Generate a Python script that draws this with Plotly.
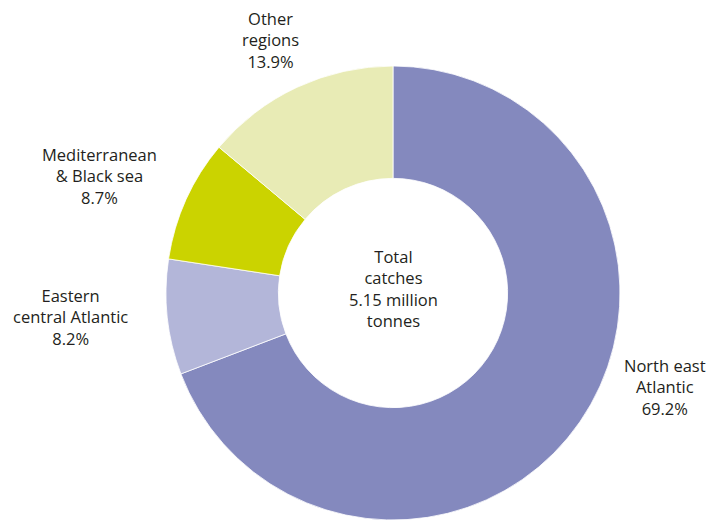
import plotly.graph_objects as go

# Catch shares by fishing region
regions = ["North east<br>Atlantic", "Eastern<br>central Atlantic",
           "Mediterranean<br>& Black sea", "Other<br>regions"]
shares = [69.2, 8.2, 8.7, 13.9]
colors = ["#8489be", "#b3b6d9", "#cbd300", "#e8ebb5"]
total_label = "Total<br>catches<br>5.15 million<br>tonnes"

# label anchor positions (pixels from top-left) for each region
label_px = [(665, 387), (70, 317), (99, 176), (270, 40)]

W, H = 722, 520
FONT = dict(family="Open Sans, Noto Sans, sans-serif", size=16.5, color="#231f20")

fig = go.Figure(go.Pie(
    labels=regions,
    values=shares,
    sort=False,
    direction="clockwise",
    rotation=0,
    hole=0.505,
    marker=dict(colors=colors, line=dict(color="white", width=0.8)),
    textinfo="none",
    hoverinfo="label+percent",
    domain=dict(x=[(393 - 227) / W, (393 + 227) / W], y=[0, 454 / H]),
    showlegend=False,
))

annotations = []
for name, val, (px, py) in zip(regions, shares, label_px):
    annotations.append(dict(
        text=f"{name}<br>{val:.1f}%",
        x=px / W, y=1 - py / H, xref="paper", yref="paper",
        xanchor="center", yanchor="middle", showarrow=False,
        font=FONT, align="center",
    ))
annotations.append(dict(
    text=total_label, x=393 / W, y=1 - 288 / H, xref="paper", yref="paper",
    xanchor="center", yanchor="middle", showarrow=False, font=FONT, align="center",
))

fig.update_layout(
    width=W, height=H,
    margin=dict(l=0, r=0, t=0, b=0),
    paper_bgcolor="white", plot_bgcolor="white",
    annotations=annotations,
)

fig.write_html("out.html")
